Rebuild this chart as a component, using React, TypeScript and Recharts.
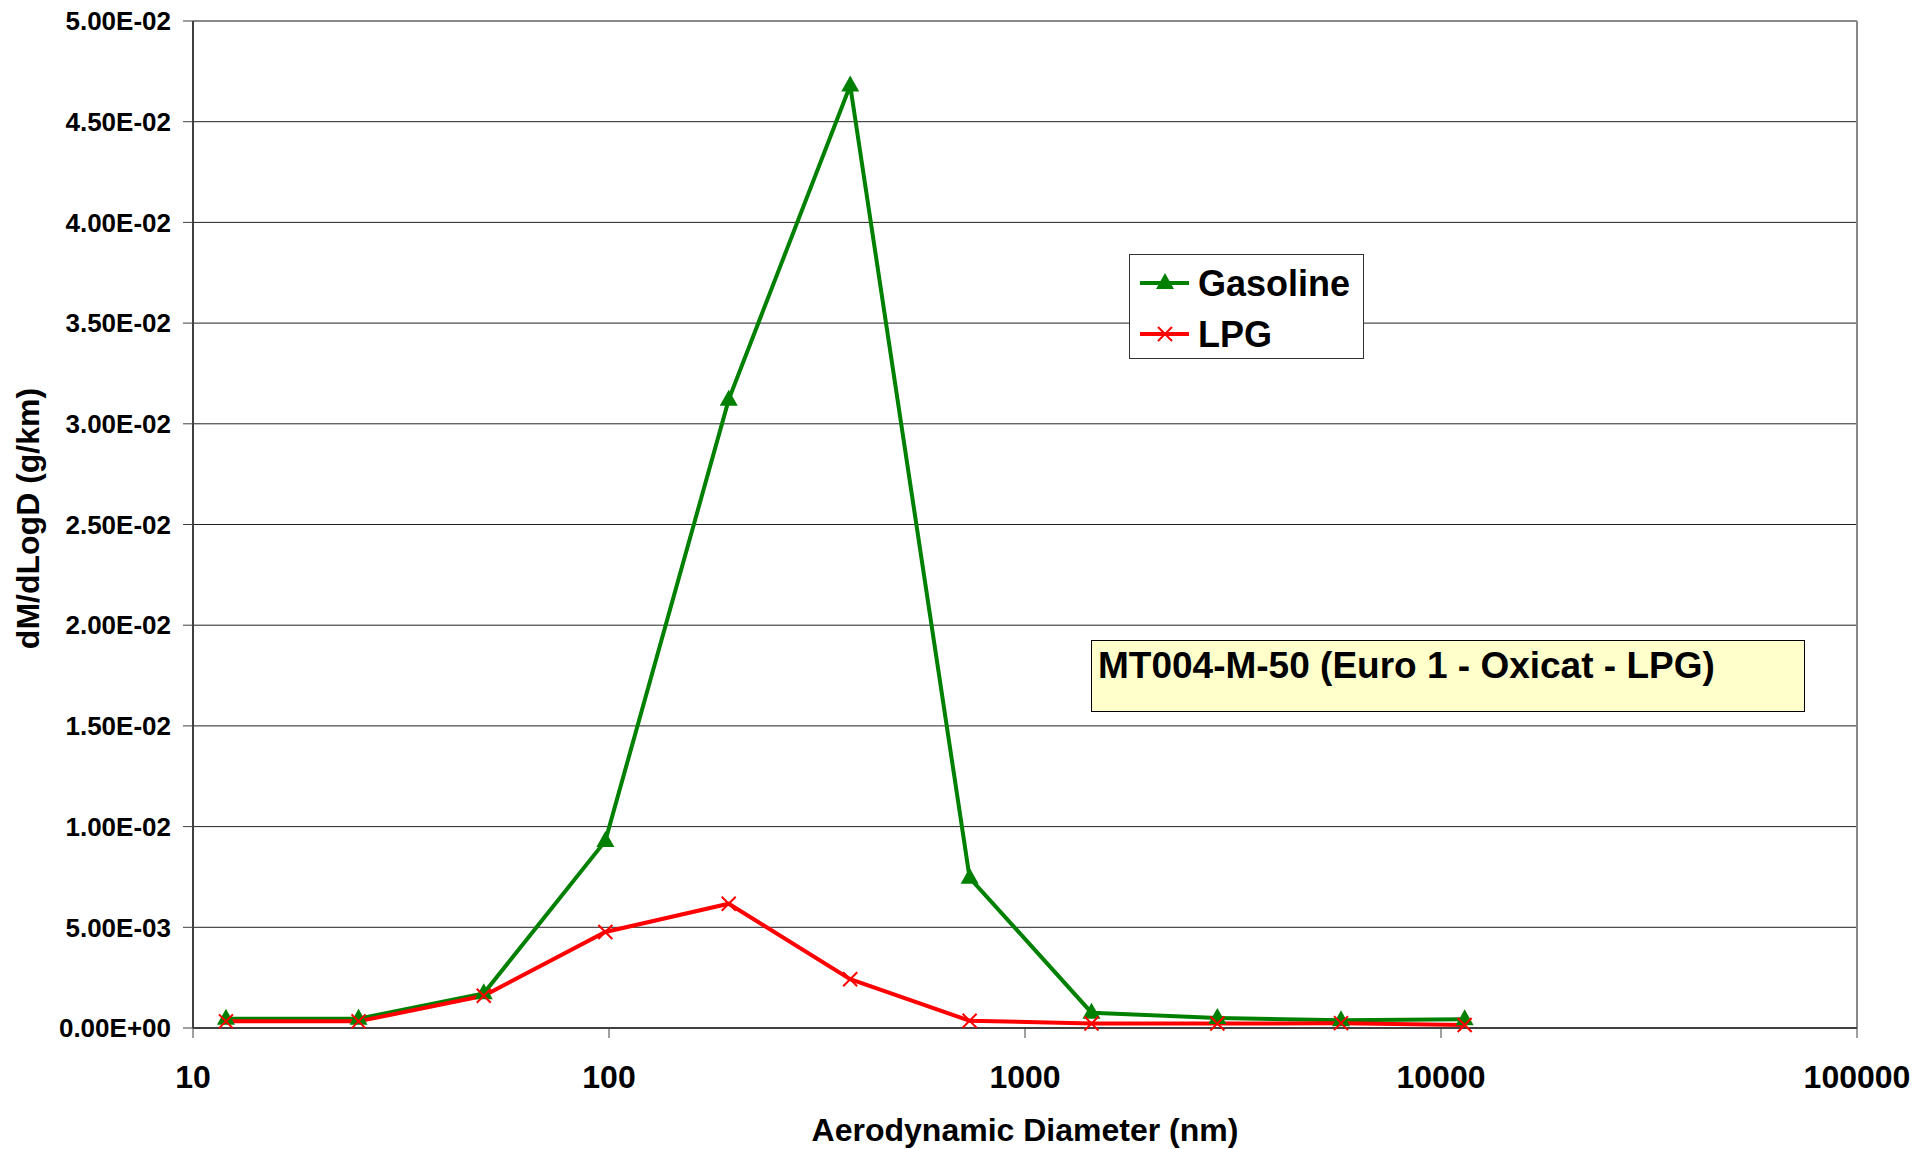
import React from 'react';
import {
    LineChart,
    Line,
    XAxis,
    YAxis,
    CartesianGrid,
    Legend,
    ReferenceLine,
    Label,
} from 'recharts';

// aerodynamic diameter of each impactor stage (nm)
const diameters = [12, 25, 50, 98, 194, 380, 736, 1445, 2900, 5750, 11400];
// dM/dLogD (g/km)
const gasoline = [0.00046, 0.00046, 0.00172, 0.00929, 0.0312, 0.0468, 0.00746, 0.00076, 0.0005, 0.00038, 0.00043];
const lpg = [0.00033, 0.00033, 0.0016, 0.00477, 0.00617, 0.00242, 0.00036, 0.00022, 0.00022, 0.00024, 0.00015];

const xTicks = [10, 100, 1000, 10000, 100000];
const yTicks = [0, 0.005, 0.01, 0.015, 0.02, 0.025, 0.03, 0.035, 0.04, 0.045, 0.05];

const chartData = diameters.map((d, i) => ({ d, gasoline: gasoline[i], lpg: lpg[i] }));

const FONT = '"Liberation Sans", Arial, sans-serif';
const GREEN = '#008000';
const RED = '#ff0000';

function sci(v: number) {
    const [m, e] = v.toExponential(2).split('e');
    const sign = e.startsWith('-') ? '-' : '+';
    const exp = e.replace(/[+-]/, '').padStart(2, '0');
    return `${m}E${sign}${exp}`;
}

function Triangle({ cx, cy }: { cx: number; cy: number }) {
    return <path d={`M${cx},${cy - 10} L${cx - 9},${cy + 6} L${cx + 9},${cy + 6} Z`} fill={GREEN} />;
}

function Cross({ cx, cy }: { cx: number; cy: number }) {
    const r = 7;
    return (
        <path
            d={`M${cx - r},${cy - r} L${cx + r},${cy + r} M${cx - r},${cy + r} L${cx + r},${cy - r}`}
            stroke={RED}
            strokeWidth={2}
            fill="none"
        />
    );
}

function LegendBox() {
    const rows = [
        { name: 'Gasoline', color: GREEN, y: 28 },
        { name: 'LPG', color: RED, y: 79 },
    ];
    return (
        <div
            style={{
                width: 233,
                height: 103,
                border: '1px solid #333',
                background: '#fff',
                position: 'relative',
            }}
        >
            <svg width={233} height={103} style={{ position: 'absolute', left: 0, top: 0 }}>
                {rows.map((r) => (
                    <g key={r.name}>
                        <line x1={10} x2={59} y1={r.y} y2={r.y} stroke={r.color} strokeWidth={4} />
                        {r.name === 'Gasoline' ? <Triangle cx={35} cy={r.y} /> : <Cross cx={35} cy={r.y} />}
                        <text
                            x={68}
                            y={r.y}
                            dominantBaseline="central"
                            fontFamily={FONT}
                            fontWeight="bold"
                            fontSize={36}
                            fill="#000"
                        >
                            {r.name}
                        </text>
                    </g>
                ))}
            </svg>
        </div>
    );
}

export default function App() {
    return (
        <div style={{ position: 'relative', width: 1931, height: 1149, margin: '-8px 0 0 -8px', background: '#fff' }}>
            <LineChart
                width={1931}
                height={1149}
                data={chartData}
                margin={{ top: 21, right: 74, bottom: 0, left: 0 }}
            >
                <CartesianGrid vertical={false} stroke="#222" strokeWidth={1} />
                <XAxis
                    dataKey="d"
                    type="number"
                    scale="log"
                    domain={[10, 100000]}
                    ticks={xTicks}
                    allowDataOverflow
                    height={121}
                    tickSize={10}
                    tickMargin={27}
                    axisLine={{ stroke: '#404040', strokeWidth: 2 }}
                    tickLine={{ stroke: '#404040' }}
                    tick={{ fontFamily: FONT, fontWeight: 'bold', fontSize: 32, fill: '#000' }}
                >
                    <Label
                        value="Aerodynamic Diameter (nm)"
                        position="insideBottom"
                        offset={8}
                        style={{ fontFamily: FONT, fontWeight: 'bold', fontSize: 32, fill: '#000' }}
                    />
                </XAxis>
                <YAxis
                    type="number"
                    domain={[0, 0.05]}
                    ticks={yTicks}
                    width={193}
                    tickSize={10}
                    tickMargin={12}
                    tickFormatter={sci}
                    axisLine={{ stroke: '#404040', strokeWidth: 2 }}
                    tickLine={{ stroke: '#404040' }}
                    tick={{ fontFamily: FONT, fontWeight: 'bold', fontSize: 26, fill: '#000' }}
                >
                    <Label
                        value="dM/dLogD (g/km)"
                        angle={-90}
                        position="insideLeft"
                        offset={28}
                        dy={-6}
                        style={{ textAnchor: 'middle', fontFamily: FONT, fontWeight: 'bold', fontSize: 32, fill: '#000' }}
                    />
                </YAxis>
                <ReferenceLine y={0.05} stroke="#888" strokeWidth={2} />
                <ReferenceLine x={100000} stroke="#888" strokeWidth={2} />
                <Legend
                    layout="vertical"
                    align="center"
                    verticalAlign="middle"
                    wrapperStyle={{ left: 1129, top: 254, width: 235 }}
                    content={() => <LegendBox />}
                />
                <Line
                    dataKey="gasoline"
                    name="Gasoline"
                    stroke={GREEN}
                    strokeWidth={4}
                    isAnimationActive={false}
                    dot={(p: any) => <Triangle key={`g-${p.index}`} cx={p.cx} cy={p.cy} />}
                    activeDot={false}
                />
                <Line
                    dataKey="lpg"
                    name="LPG"
                    stroke={RED}
                    strokeWidth={4}
                    isAnimationActive={false}
                    dot={(p: any) => <Cross key={`l-${p.index}`} cx={p.cx} cy={p.cy} />}
                    activeDot={false}
                />
            </LineChart>
            <div
                style={{
                    position: 'absolute',
                    left: 1091,
                    top: 640,
                    width: 706,
                    height: 70,
                    background: '#ffffcc',
                    border: '1.5px solid #000',
                    fontFamily: FONT,
                    fontWeight: 'bold',
                    fontSize: 37,
                    lineHeight: '50px',
                    paddingLeft: 6,
                    boxSizing: 'content-box',
                    whiteSpace: 'nowrap',
                }}
            >
                MT004-M-50 (Euro 1 - Oxicat - LPG)
            </div>
        </div>
    );
}
